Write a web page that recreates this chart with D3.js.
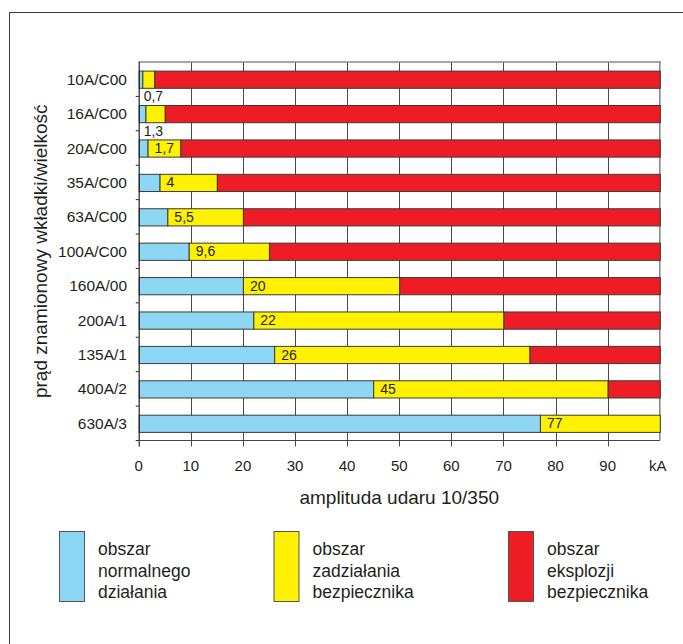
<!DOCTYPE html>
<html>
<head>
<meta charset="utf-8">
<script src="https://cdn.jsdelivr.net/npm/d3@7"></script>
<style>
  html, body { margin: 0; padding: 0; background: #fff; }
  svg { display: block; }
  text { font-family: "Liberation Sans", Arial, Helvetica, sans-serif; fill: #231f20; }
</style>
</head>
<body>
<script>
// ---- data ----
const categories = ["10A/C00","16A/C00","20A/C00","35A/C00","63A/C00","100A/C00","160A/00","200A/1","135A/1","400A/2","630A/3"];
const normalEnd  = [0.7, 1.3, 1.7, 4, 5.5, 9.6, 20, 22, 26, 45, 77];
const tripEnd    = [3, 5, 8, 15, 20, 25, 50, 70, 75, 90, 100];
const explodeEnd = [100, 100, 100, 100, 100, 100, 100, 100, 100, 100, 100];
const valueLabels = ["0,7","1,3","1,7","4","5,5","9,6","20","22","26","45","77"];
const xTickValues = [0,10,20,30,40,50,60,70,80,90,100];
const xTickLabels = ["0","10","20","30","40","50","60","70","80","90","kA"];
const xTitle = "amplituda udaru 10/350";
const yTitle = "prąd znamionowy wkładki/wielkość";
const legendItems = [
  { lines: ["obszar","normalnego","działania"], color: "#8dd6f4" },
  { lines: ["obszar","zadziałania","bezpiecznika"], color: "#fff100" },
  { lines: ["obszar","eksplozji","bezpiecznika"], color: "#ee1c25" }
];
const segColors = ["#8dd6f4", "#fff100", "#ee1c25"];

// ---- layout ----
const W = 683, H = 644;
const plotL = 138.7, plotR = 659.8, plotT = 62, plotB = 440.5;

const svg = d3.select("body").append("svg").attr("width", W).attr("height", H);

// frame
svg.append("rect").attr("x", 9.5).attr("y", 12.5).attr("width", 700).attr("height", 700)
  .attr("fill", "none").attr("stroke", "#3a3a3a").attr("stroke-width", 1);

const x = d3.scaleLinear().domain([0, 100]).range([plotL, plotR]);
const y = d3.scaleBand().domain(categories).range([plotT, plotB]).paddingInner(0.5).paddingOuter(0.25);

// vertical grid lines (extend below axis as ticks)
svg.append("g").selectAll("line").data(xTickValues.filter(v => v > 0 && v < 100)).join("line")
  .attr("x1", d => Math.round(x(d)) + 0.5).attr("x2", d => Math.round(x(d)) + 0.5)
  .attr("y1", plotT).attr("y2", plotB + 6)
  .attr("stroke", "#4a4a4a").attr("stroke-width", 1);
// right border
svg.append("line").attr("x1", x(100)).attr("x2", x(100)).attr("y1", plotT - 1).attr("y2", plotB)
  .attr("stroke", "#8a8a8a").attr("stroke-width", 1.6);
// top border
svg.append("line").attr("x1", x(0)).attr("x2", x(100) + 0.8).attr("y1", plotT).attr("y2", plotT)
  .attr("stroke", "#8a8a8a").attr("stroke-width", 1.6);

// stacked bars
const rows = categories.map((c, i) => ({
  cat: c,
  segs: [[0, normalEnd[i]], [normalEnd[i], tripEnd[i]], [tripEnd[i], explodeEnd[i]]],
  label: valueLabels[i], n: normalEnd[i]
}));
const gRows = svg.append("g").selectAll("g").data(rows).join("g");
gRows.selectAll("rect").data(d => d.segs.map((s, k) => ({ s, k, cat: d.cat })).filter(o => o.s[1] > o.s[0]))
  .join("rect")
  .attr("x", o => x(o.s[0]) + 0.5)
  .attr("y", o => y(o.cat) + 0.5)
  .attr("width", o => x(o.s[1]) - x(o.s[0]))
  .attr("height", y.bandwidth())
  .attr("fill", o => segColors[o.k])
  .attr("stroke", "#3a3a3a").attr("stroke-width", 1);

// value labels
gRows.append("text")
  .attr("x", (d, i) => i < 2 ? x(0) + 5 : x(d.n) + 7)
  .attr("y", (d, i) => i < 2 ? y(d.cat) + y.step() * 0.75 : y(d.cat) + y.bandwidth() / 2)
  .attr("dy", "0.36em")
  .attr("font-size", 14)
  .text(d => d.label);

// y axis line and ticks
svg.append("line").attr("x1", x(0) + 0.5).attr("x2", x(0) + 0.5).attr("y1", plotT).attr("y2", plotB + 6)
  .attr("stroke", "#222").attr("stroke-width", 1.2);
svg.append("line").attr("x1", x(0)).attr("x2", x(100)).attr("y1", plotB).attr("y2", plotB)
  .attr("stroke", "#444").attr("stroke-width", 1.2);
svg.append("g").selectAll("line").data(categories).join("line")
  .attr("x1", x(0) - 3).attr("x2", x(0))
  .attr("y1", d => y(d) + y.bandwidth() + y.step() * 0.25)
  .attr("y2", d => y(d) + y.bandwidth() + y.step() * 0.25)
  .attr("stroke", "#222").attr("stroke-width", 1);

// category labels
svg.append("g").selectAll("text").data(categories).join("text")
  .attr("x", 127).attr("y", d => y(d) + y.bandwidth() / 2).attr("dy", "0.36em")
  .attr("text-anchor", "end").attr("font-size", 15.5).text(d => d);

// x tick labels
svg.append("g").selectAll("text").data(xTickValues).join("text")
  .attr("x", (d, i) => x(d) + (i === 10 ? -2 : 0)).attr("y", 466).attr("dy", "0.36em")
  .attr("text-anchor", "middle").attr("font-size", 15)
  .text((d, i) => xTickLabels[i]);

// axis titles
svg.append("text").attr("x", x(50)).attr("y", 497).attr("dy", "0.36em")
  .attr("text-anchor", "middle").attr("font-size", 19).text(xTitle);
svg.append("text").attr("transform", `translate(40, ${(plotT + plotB) / 2}) rotate(-90)`)
  .attr("dy", "0.36em").attr("text-anchor", "middle").attr("font-size", 19).text(yTitle);

// legend
const legX = [59, 273.5, 508];
const lg = svg.append("g").selectAll("g").data(legendItems).join("g")
  .attr("transform", (d, i) => `translate(${legX[i]}, 531)`);
lg.append("rect").attr("x", 0.5).attr("y", 0.5).attr("width", 25).attr("height", 70)
  .attr("fill", d => d.color).attr("stroke", "#555").attr("stroke-width", 1);
lg.each(function(d) {
  const t = d3.select(this).append("text").attr("x", 39).attr("font-size", 17.5);
  t.selectAll("tspan").data(d.lines).join("tspan")
    .attr("x", 39).attr("y", (l, j) => 18 + j * 21.5).attr("dy", "0.36em").text(l => l);
});
</script>
</body>
</html>
